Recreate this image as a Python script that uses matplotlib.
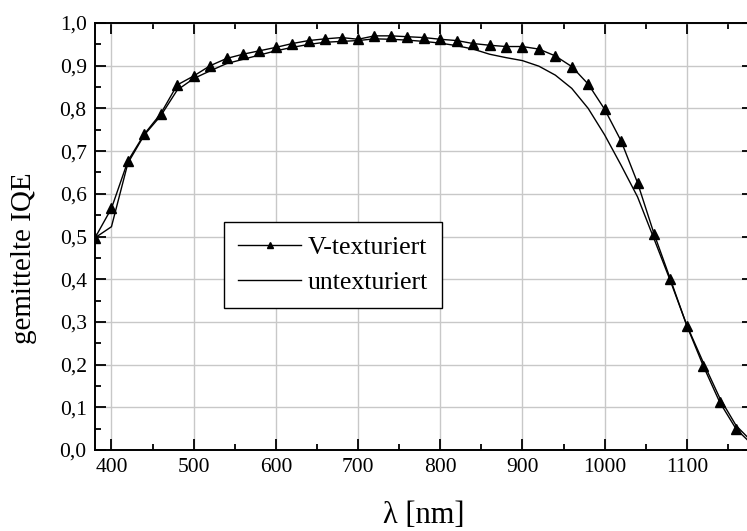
"""
Gemittelte interne Quanteneffizienz: V-texturiert vs. untexturiert
"""
import numpy as np
import matplotlib
matplotlib.use('Agg')
import matplotlib.pyplot as plt
from matplotlib.ticker import MultipleLocator, FuncFormatter

plt.rcParams['font.family'] = ['Liberation Serif', 'DejaVu Serif']

# V-texturiert (Messpunkte alle 20 nm)
wl_tex = [380, 400, 420, 440, 460, 480, 500, 520, 540, 560, 580, 600, 620,
          640, 660, 680, 700, 720, 740, 760, 780, 800, 820, 840, 860, 880,
          900, 920, 940, 960, 980, 1000, 1020, 1040, 1060, 1080, 1100, 1120,
          1140, 1160, 1180]
iqe_tex = [0.497, 0.566, 0.677, 0.740, 0.788, 0.855, 0.876, 0.900, 0.917,
           0.927, 0.935, 0.943, 0.952, 0.959, 0.963, 0.966, 0.962, 0.970,
           0.970, 0.968, 0.966, 0.962, 0.959, 0.952, 0.948, 0.945, 0.945,
           0.939, 0.923, 0.898, 0.857, 0.798, 0.724, 0.626, 0.507, 0.400,
           0.291, 0.197, 0.112, 0.049, 0.012]

# untexturiert
wl_flat = [380, 400, 420, 440, 460, 480, 500, 520, 540, 560, 580, 600, 620,
           640, 660, 680, 700, 720, 740, 760, 780, 800, 820, 840, 860, 880,
           900, 920, 940, 960, 980, 1000, 1020, 1040, 1060, 1080, 1100, 1120,
           1140, 1160, 1180]
iqe_flat = [0.497, 0.523, 0.672, 0.738, 0.783, 0.843, 0.870, 0.888, 0.905,
            0.915, 0.925, 0.935, 0.943, 0.950, 0.955, 0.957, 0.959, 0.963,
            0.962, 0.960, 0.957, 0.953, 0.947, 0.939, 0.927, 0.919, 0.912,
            0.899, 0.878, 0.847, 0.800, 0.738, 0.667, 0.593, 0.495, 0.396,
            0.292, 0.205, 0.122, 0.057, 0.018]

fig = plt.figure(figsize=(7.47, 5.31), dpi=100)
ax = fig.add_axes([0.1272, 0.1525, 0.8803, 0.8041])

ax.plot(wl_tex, iqe_tex, color='black', linewidth=1.0, marker='^',
        markersize=6.5, label='V-texturiert', zorder=3)
ax.plot(wl_flat, iqe_flat, color='black', linewidth=1.0,
        label='untexturiert', zorder=3)

ax.set_xlim(380, 1180)
ax.set_ylim(0, 1.0)

ax.xaxis.set_major_locator(MultipleLocator(100))
ax.xaxis.set_minor_locator(MultipleLocator(50))
ax.yaxis.set_major_locator(MultipleLocator(0.1))
ax.yaxis.set_minor_locator(MultipleLocator(0.05))
ax.yaxis.set_major_formatter(FuncFormatter(lambda v, p: f'{v:.1f}'.replace('.', ',')))

ax.tick_params(which='both', direction='in', top=True, right=True,
               labelsize=15.5, width=1.3, pad=6)
ax.tick_params(which='major', length=8)
ax.tick_params(which='minor', length=4.5)

for sp in ax.spines.values():
    sp.set_linewidth(1.4)

ax.grid(True, which='major', color='#c8c8c8', linewidth=1.0, zorder=0)
ax.set_axisbelow(True)

ax.set_xlabel('λ [nm]', fontsize=22, labelpad=17)
ax.set_ylabel('gemittelte IQE', fontsize=21)
ax.yaxis.set_label_coords(-0.088, 0.45)

leg = ax.legend(loc='upper left', bbox_to_anchor=(0.196, 0.534),
                borderaxespad=0, fontsize=18.5, numpoints=1, markerscale=0.7,
                handlelength=2.45, handletextpad=0.25, labelspacing=0.45,
                borderpad=0.55, fancybox=False, framealpha=1, edgecolor='black')
leg.get_frame().set_linewidth(1.0)

plt.savefig('out.png', dpi=100)
plt.close()
